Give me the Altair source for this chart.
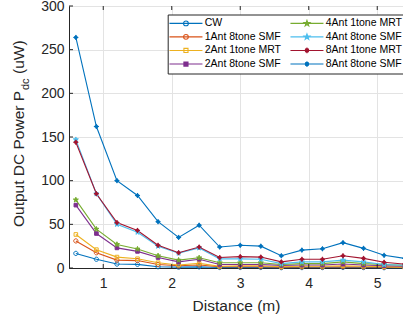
import altair as alt
import pandas as pd
import math

distance = [0.6, 0.9, 1.2, 1.5, 1.8, 2.1, 2.4, 2.7, 3.0, 3.3, 3.6, 3.9, 4.2, 4.5, 4.8, 5.1, 5.4]

series_names = ["CW", "1Ant 8tone SMF", "2Ant 1tone MRT", "2Ant 8tone SMF",
                "4Ant 1tone MRT", "4Ant 8tone SMF", "8Ant 1tone MRT", "8Ant 8tone SMF"]

cw = [16.7, 10, 4.5, 4.2, 1.5, 1.0, 1.3, 0.6, 0.6, 0.6, 0.4, 0.5, 0.5, 0.6, 0.5, 0.4, 0.3]
ant1_8tone_smf = [31, 17.5, 9, 8.5, 4, 2.5, 3.5, 1.5, 1.5, 1.5, 1, 1.2, 1.2, 1.5, 1.2, 1, 0.8]
ant2_1tone_mrt = [38.4, 21, 12.5, 10.6, 6, 3.4, 5.3, 2, 2.5, 2.5, 1.5, 2, 2, 2.5, 2, 1.5, 1]
ant2_8tone_smf = [72, 39.5, 23, 19, 12, 7, 10, 4, 4, 4, 3, 3.5, 3.5, 4.5, 3.5, 2.5, 2]
ant4_1tone_mrt = [78, 44.5, 27, 21.7, 14, 9, 11.7, 6, 6, 6, 4, 5, 5, 7, 5, 4, 3]
ant4_8tone_smf = [147, 85, 50, 41, 25, 17, 23, 10.5, 10.5, 10, 5, 7, 7, 9, 7, 4, 3]
ant8_1tone_mrt = [144, 85, 52, 43, 26, 17.5, 24, 12, 13, 12.5, 7, 10, 10, 14, 11, 6.5, 4.5]
ant8_8tone_smf = [264, 162, 100, 83, 53, 35, 49, 24, 26, 25, 14, 20.5, 22, 29, 22.5, 14.5, 11]

all_values = [cw, ant1_8tone_smf, ant2_1tone_mrt, ant2_8tone_smf,
              ant4_1tone_mrt, ant4_8tone_smf, ant8_1tone_mrt, ant8_8tone_smf]

colors = ["#0072BD", "#D95319", "#EDB120", "#7E2F8E", "#77AC30", "#4DBEEE", "#A2142F", "#0072BD"]
marker_kinds = ["circle", "circle", "square", "square", "star", "star", "dotstar", "dotstar"]
marker_filled = [False, False, False, True, True, True, True, True]

y_ticks = [0, 50, 100, 150, 200, 250, 300]
x_ticks = [1, 2, 3, 4, 5]

W, H = 334, 262


def fmt(v):
    return f"{v:.3f}".rstrip("0").rstrip(".")


def marker_path(kind, cx, r):
    if kind == "circle":
        return (f"M{fmt(cx - r)},0A{fmt(r)},{fmt(r)} 0 1,0 {fmt(cx + r)},0"
                f"A{fmt(r)},{fmt(r)} 0 1,0 {fmt(cx - r)},0Z")
    if kind == "square":
        s = r * 0.85
        return f"M{fmt(cx - s)},{fmt(-s)}H{fmt(cx + s)}V{fmt(s)}H{fmt(cx - s)}Z"
    if kind == "star":
        pts = []
        ro, ri = r * 1.25, r * 0.5
        for i in range(10):
            rr = ro if i % 2 == 0 else ri
            a = -math.pi / 2 + i * math.pi / 5
            pts.append(f"{fmt(cx + rr * math.cos(a))},{fmt(rr * math.sin(a))}")
        return "M" + "L".join(pts) + "Z"
    rc = r * 0.75
    rl = r * 1.2
    return (f"M{fmt(cx - rc)},0A{fmt(rc)},{fmt(rc)} 0 1,0 {fmt(cx + rc)},0"
            f"A{fmt(rc)},{fmt(rc)} 0 1,0 {fmt(cx - rc)},0Z"
            f"M{fmt(cx - rl)},0H{fmt(cx + rl)}M{fmt(cx)},{fmt(-rl)}V{fmt(rl)}")


data_shapes = [marker_path(k, 0, 1) for k in marker_kinds]
LEG_X0, LEG_X1, LEG_CX, LEG_R = -2.33, 8.67, 3.17, 0.8
legend_shapes = [f"M{LEG_X0},0H{LEG_X1}" + marker_path(k, LEG_CX, LEG_R) for k in marker_kinds]
fills = [c if f else "transparent" for c, f in zip(colors, marker_filled)]

dom = series_names

rows = []
for name, vals in zip(series_names, all_values):
    for xv, yv in zip(distance, vals):
        rows.append({"x": xv, "y": yv, "series": name, "leg": name})
df = pd.DataFrame(rows)

xscale = alt.Scale(domain=[0.5, 5.376], nice=False, zero=False)
yscale = alt.Scale(domain=[0, 300], nice=False)

x_enc = alt.X("x:Q", scale=xscale,
              axis=alt.Axis(values=x_ticks, title="Distance (m)", format="d"))
y_enc = alt.Y("y:Q", scale=yscale, axis=alt.Axis(values=y_ticks, title=None))

base = alt.Chart(df)

lines = base.mark_line(strokeWidth=1.1, clip=False).encode(
    x=x_enc, y=y_enc,
    color=alt.Color("series:N", scale=alt.Scale(domain=dom, range=colors), legend=None),
    detail="series:N",
)

points = base.mark_point(size=18, strokeWidth=1, opacity=1, filled=False).encode(
    x=x_enc, y=y_enc,
    color=alt.Color("series:N", scale=alt.Scale(domain=dom, range=colors), legend=None),
    fill=alt.Fill("series:N", scale=alt.Scale(domain=dom, range=fills), legend=None),
    shape=alt.Shape("series:N", scale=alt.Scale(domain=dom, range=data_shapes), legend=None),
)

leg = alt.Legend(
    orient="none", legendX=98.7, legendY=8.5, direction="vertical", columns=2,
    columnPadding=7, rowPadding=2.6, padding=3.5,
    strokeColor="#262626", fillColor="white", cornerRadius=0,
    symbolSize=36, symbolStrokeWidth=1.1, symbolOpacity=1,
    labelFontSize=10.5, labelFont="Liberation Sans", labelColor="#000000",
    labelOffset=23, title=None, symbolLimit=0, labelLimit=200,
)

legend_layer = base.mark_point(size=36, opacity=0, filled=False).encode(
    x=x_enc, y=y_enc,
    color=alt.Color("leg:N", scale=alt.Scale(domain=dom, range=colors), legend=leg),
    fill=alt.Fill("leg:N", scale=alt.Scale(domain=dom, range=fills), legend=leg),
    shape=alt.Shape("leg:N", scale=alt.Scale(domain=dom, range=legend_shapes), legend=leg),
)

ytick_df = pd.DataFrame({"v": y_ticks})
xtick_df = pd.DataFrame({"v": x_ticks})

ytick_rules = alt.Chart(ytick_df).mark_rule(color="#262626", strokeWidth=1).encode(
    y=alt.Y("v:Q", scale=yscale), x=alt.value(0), x2=alt.value(4))
xtick_bottom = alt.Chart(xtick_df).mark_rule(color="#262626", strokeWidth=1).encode(
    x=alt.X("v:Q", scale=xscale), y=alt.value(H), y2=alt.value(H - 4))
xtick_top = alt.Chart(xtick_df).mark_rule(color="#262626", strokeWidth=1).encode(
    x=alt.X("v:Q", scale=xscale), y=alt.value(0), y2=alt.value(4))

one = pd.DataFrame({"a": [0]})
TITLE_FONT = "Liberation Sans"
t_main = alt.Chart(one).mark_text(angle=270, align="left", baseline="middle",
                                  fontSize=15.5, font=TITLE_FONT, color="#262626").encode(
    x=alt.value(-50), y=alt.value(221), text=alt.value("Output DC Power P"))
t_sub = alt.Chart(one).mark_text(angle=270, align="left", baseline="middle",
                                 fontSize=11, font=TITLE_FONT, color="#262626").encode(
    x=alt.value(-43), y=alt.value(84), text=alt.value("dc"))
t_unit = alt.Chart(one).mark_text(angle=270, align="left", baseline="middle",
                                  fontSize=15.5, font=TITLE_FONT, color="#262626").encode(
    x=alt.value(-50), y=alt.value(68), text=alt.value("(uW)"))

chart = alt.layer(
    lines, points, legend_layer, ytick_rules, xtick_bottom, xtick_top, t_main, t_sub, t_unit
).resolve_scale(
    color="independent", fill="independent", shape="independent"
).properties(
    width=W, height=H,
    autosize=alt.AutoSizeParams(type="none"),
    padding={"left": 69, "top": 6, "right": 0, "bottom": 54},
).configure_view(
    stroke="#262626", strokeWidth=1
).configure_axis(
    grid=True, gridColor="#e3e3e3", gridWidth=1,
    domainColor="#262626", domainWidth=1,
    tickSize=0, labelColor="#262626", titleColor="#262626",
    labelFont="Liberation Sans", titleFont="Liberation Sans",
    labelFontSize=14, titleFontSize=15.5, titleFontWeight="normal",
).configure_axisY(
    labelPadding=5,
).configure_axisX(
    labelPadding=8, titlePadding=8,
)

chart.save("out.html", embed_options={"renderer": "svg", "actions": False})
